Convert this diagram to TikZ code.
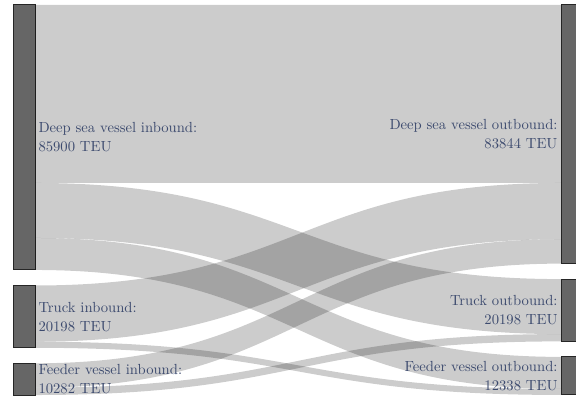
\documentclass[tikz,border=0pt]{standalone}
\usepackage{tikz}
\usepackage{xcolor}

\definecolor{labelblue}{RGB}{60,74,110}
\newcommand{\kteu}{3.0847pt}
\newcommand{\flowband}[5]{%
  \fill [flow] ([yshift=-#2*\kteu]#1.north east) .. controls +(263,0) and +(-263,0) .. ([yshift=-#4*\kteu]#3.north west)
    -- ([yshift=-(#4+#5)*\kteu]#3.north west) .. controls +(-263,0) and +(263,0) .. ([yshift=-(#2+#5)*\kteu]#1.north east) -- cycle;}

\begin{document}
\begin{tikzpicture}[x=1pt,y=1pt,
    bar/.style={draw=black!85,fill=black!60,line width=1pt,minimum width=22pt,inner sep=0pt,outer sep=0pt},
    flow/.style={fill=black,fill opacity=0.2},
    lbl/.style={text=labelblue,font=\fontsize{10}{13}\selectfont,inner sep=2.2pt,scale=1.464}]
      \clip (0,0) rectangle (576,398);
      \node [bar,anchor=north west,minimum height=85.9*\kteu] (din) at (13,393) {};
      \node [bar,anchor=north west,minimum height=20.198*\kteu] (tin) at (13,112.5) {};
      \node [bar,anchor=north west,minimum height=10.282*\kteu] (fin) at (13,34.7) {};
      \node [bar,anchor=north west,minimum height=83.844*\kteu] (dout) at (561,393) {};
      \node [bar,anchor=north west,minimum height=20.198*\kteu] (tout) at (561,118.9) {};
      \node [bar,anchor=north west,minimum height=12.338*\kteu] (fout) at (561,41.1) {};
      \flowband{din}{0}{dout}{0}{57.7}
      \flowband{din}{57.7}{tout}{0}{17.83}
      \flowband{din}{75.53}{fout}{0}{10.37}
      \flowband{tin}{0}{dout}{57.7}{18.23}
      \flowband{tin}{18.23}{fout}{10.37}{1.968}
      \flowband{fin}{0}{dout}{75.93}{7.914}
      \flowband{fin}{7.914}{tout}{17.83}{2.368}
      \node [lbl,anchor=west,align=left] (dinlabel) at (din.east) {Deep sea vessel inbound:\\85900 TEU};
      \node [lbl,anchor=west,align=left] (tinlabel) at (tin.east) {Truck inbound:\\20198 TEU};
      \node [lbl,anchor=west,align=left] (finlabel) at (fin.east) {Feeder vessel inbound:\\10282 TEU};
      \node [lbl,anchor=east,align=right] (doutlabel) at (dout.west) {Deep sea vessel outbound:\\83844 TEU};
      \node [lbl,anchor=east,align=right] (toutlabel) at (tout.west) {Truck outbound:\\20198 TEU};
      \node [lbl,anchor=east,align=right] (foutlabel) at (fout.west) {Feeder vessel outbound:\\12338 TEU};
\end{tikzpicture}
\end{document}
